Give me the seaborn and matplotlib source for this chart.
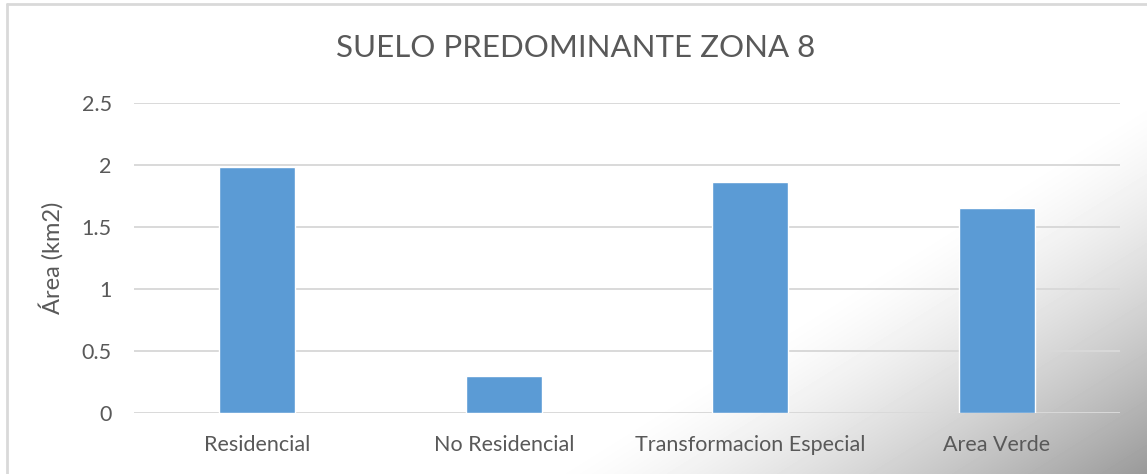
import numpy as np
import pandas as pd
import matplotlib.pyplot as plt
from matplotlib.lines import Line2D
import seaborn as sns

categories = ['Residencial', 'No Residencial', 'Transformacion Especial', 'Area Verde']
area_km2 = [1.98, 0.295, 1.865, 1.65]
y_ticks = [0, 0.5, 1, 1.5, 2, 2.5]
y_tick_labels = ['0', '0.5', '1', '1.5', '2', '2.5']

BAR_COLOR = '#5B9BD5'
TEXT_COLOR = '#595959'
GRID_COLOR = '#D9D9D9'

sns.set_theme(style='white')
plt.rcParams['font.family'] = ['Lato', 'DejaVu Sans']

fig = plt.figure(figsize=(11.47, 4.74), dpi=100)
W, H = 1147, 474

# soft grey shading in the lower right corner
bg = fig.add_axes([0, 0, 1, 1], zorder=0)
xx, yy = np.meshgrid(np.arange(W), np.arange(H))
t = np.clip((xx + 1.6 * yy - 1300) / (W + 1.6 * H - 1300), 0, 1) ** 1.4
shade = 1 - 0.40 * t
bg.imshow(shade, cmap='gray', vmin=0, vmax=1, extent=[0, W, H, 0], aspect='auto')
bg.set_xlim(0, W)
bg.set_ylim(H, 0)
bg.axis('off')

# chart border (left and top visible)
fig.add_artist(Line2D([6.5 / W, 6.5 / W], [0, 1 - 4 / H], transform=fig.transFigure,
                      color=GRID_COLOR, lw=2))
fig.add_artist(Line2D([6.5 / W, 1], [1 - 4 / H, 1 - 4 / H], transform=fig.transFigure,
                      color=GRID_COLOR, lw=2))

ax = fig.add_axes([134 / W, 1 - 413 / H, (1120 - 134) / W, (413 - 103) / H], zorder=1)
ax.patch.set_alpha(0)

df = pd.DataFrame({'Categoria': categories, 'Area': area_km2})
sns.barplot(data=df, x='Categoria', y='Area', color=BAR_COLOR, saturation=1,
            width=0.31, ax=ax, zorder=3)

ax.set_xlim(-0.5, len(categories) - 0.5)
ax.set_ylim(0, 2.5)
ax.set_yticks(y_ticks)
ax.set_yticklabels(y_tick_labels)
ax.yaxis.grid(True, color=GRID_COLOR, lw=1.4, zorder=0)
ax.set_axisbelow(True)
for s in ax.spines.values():
    s.set_visible(False)
ax.tick_params(axis='both', length=0, labelsize=15.5, labelcolor=TEXT_COLOR)
ax.tick_params(axis='y', pad=16)
ax.tick_params(axis='x', pad=16)
ax.set_xlabel('')
ax.set_ylabel('Área (km2)', fontsize=17, color=TEXT_COLOR, labelpad=13)

fig.text(576 / W, 1 - 48 / H, 'SUELO PREDOMINANTE ZONA 8', ha='center', va='center',
         fontsize=22.5, color=TEXT_COLOR)

fig.savefig('out.png', dpi=100)
